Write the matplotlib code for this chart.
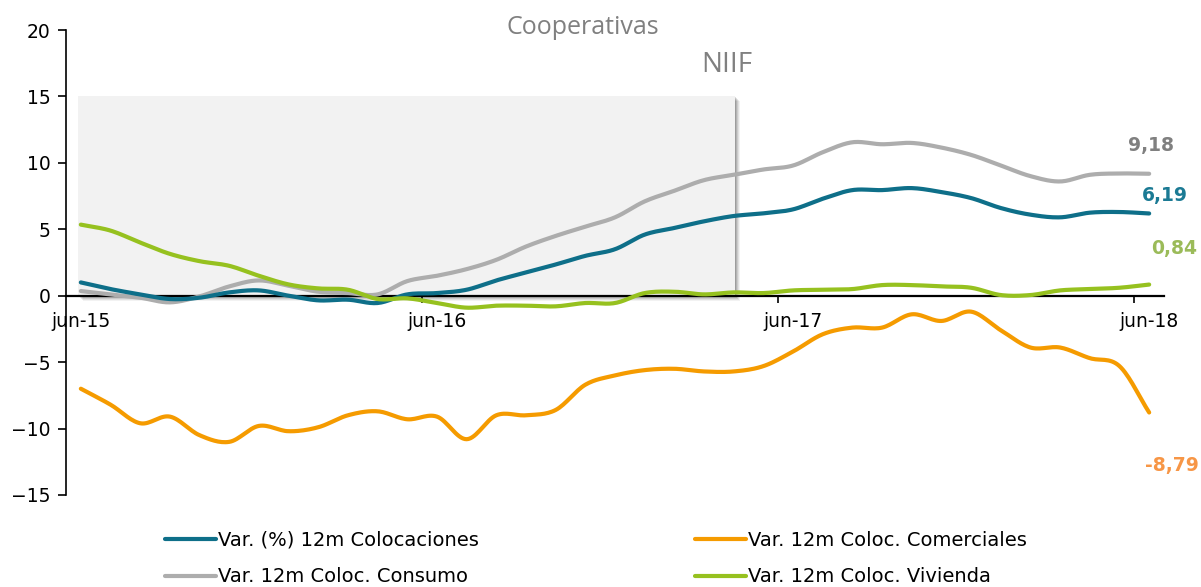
import matplotlib
matplotlib.use('Agg')
import matplotlib.pyplot as plt
import matplotlib.patches as mpatches
import matplotlib.transforms as mtransforms
import numpy as np

plt.rcParams['font.family'] = 'DejaVu Sans'

# Data (monthly, jun-15 .. jun-18)
months = ['jun-15', 'jul-15', 'ago-15', 'sep-15', 'oct-15', 'nov-15', 'dic-15',
          'ene-16', 'feb-16', 'mar-16', 'abr-16', 'may-16', 'jun-16', 'jul-16',
          'ago-16', 'sep-16', 'oct-16', 'nov-16', 'dic-16', 'ene-17', 'feb-17',
          'mar-17', 'abr-17', 'may-17', 'jun-17', 'jul-17', 'ago-17', 'sep-17',
          'oct-17', 'nov-17', 'dic-17', 'ene-18', 'feb-18', 'mar-18', 'abr-18',
          'may-18', 'jun-18']
colocaciones = [1.0, 0.5, 0.1, -0.25, -0.15, 0.25, 0.4, 0.0, -0.35, -0.3, -0.55, 0.1,
                0.2, 0.45, 1.15, 1.75, 2.35, 3.0, 3.5, 4.6, 5.1, 5.6, 6.0, 6.2,
                6.5, 7.3, 7.95, 7.95, 8.1, 7.8, 7.35, 6.6, 6.1, 5.9, 6.25, 6.3, 6.19]
comerciales = [-7.0, -8.2, -9.6, -9.1, -10.5, -11.0, -9.8, -10.2, -9.9, -9.0, -8.7, -9.3,
               -9.1, -10.8, -9.0, -9.0, -8.6, -6.7, -6.0, -5.6, -5.5, -5.7, -5.7, -5.3,
               -4.2, -2.9, -2.4, -2.4, -1.4, -1.9, -1.2, -2.6, -3.9, -3.9, -4.7, -5.3, -8.79]
consumo = [0.35, 0.1, -0.15, -0.5, -0.05, 0.7, 1.15, 0.75, 0.3, 0.2, 0.1, 1.1,
           1.5, 2.0, 2.7, 3.7, 4.5, 5.2, 5.9, 7.1, 7.9, 8.7, 9.1, 9.5,
           9.8, 10.8, 11.55, 11.4, 11.5, 11.15, 10.6, 9.8, 9.0, 8.6, 9.1, 9.2, 9.18]
vivienda = [5.35, 4.9, 4.0, 3.15, 2.6, 2.25, 1.5, 0.85, 0.55, 0.45, -0.25, -0.2,
            -0.55, -0.9, -0.75, -0.75, -0.8, -0.55, -0.55, 0.2, 0.3, 0.1, 0.25, 0.2,
            0.4, 0.45, 0.5, 0.8, 0.8, 0.7, 0.6, 0.05, 0.05, 0.4, 0.5, 0.6, 0.84]

# NIIF shaded period (category positions)
shade_start, shade_end = -0.1, 22.05

c_col = '#0E6F89'
c_com = '#F59B00'
c_con = '#ADADAD'
c_viv = '#96C11F'


def smooth(ys, n=16):
    # Catmull-Rom spline through the points, like Excel's smoothed line
    y = np.asarray(ys, float)
    x = np.arange(len(y), dtype=float)
    yp = np.concatenate([[2 * y[0] - y[1]], y, [2 * y[-1] - y[-2]]])
    t = np.linspace(0, 1, n, endpoint=False)
    xs, ys_out = [], []
    for i in range(len(y) - 1):
        p0, p1, p2, p3 = yp[i:i + 4]
        seg = 0.5 * (2 * p1 + (-p0 + p2) * t + (2 * p0 - 5 * p1 + 4 * p2 - p3) * t ** 2
                     + (-p0 + 3 * p1 - 3 * p2 + p3) * t ** 3)
        xs.append(x[i] + t)
        ys_out.append(seg)
    xs.append([x[-1]])
    ys_out.append([y[-1]])
    return np.concatenate(xs), np.concatenate(ys_out)


fig = plt.figure(figsize=(12.01, 5.87), dpi=100)
ax = fig.add_axes([66 / 1201, 1 - 495 / 587, (1164 - 66) / 1201, (495 - 30) / 587])

# shaded box with soft shadow
for k, a in zip([5, 4, 3, 2, 1], [0.05, 0.07, 0.09, 0.11, 0.13]):
    tr = mtransforms.offset_copy(ax.transData, fig=fig, x=k, y=-k, units='dots')
    ax.add_patch(mpatches.Rectangle((shade_start, 0), shade_end - shade_start, 15,
                                    facecolor='black', alpha=a, edgecolor='none',
                                    transform=tr, zorder=0.5))
ax.add_patch(mpatches.Rectangle((shade_start, 0), shade_end - shade_start, 15,
                                facecolor='#F2F2F2', edgecolor='none', zorder=0.6))

lw = 3
l_col, = ax.plot(*smooth(colocaciones), color=c_col, lw=lw, solid_capstyle='round', zorder=3)
l_com, = ax.plot(*smooth(comerciales), color=c_com, lw=lw, solid_capstyle='round', zorder=3)
l_con, = ax.plot(*smooth(consumo), color=c_con, lw=lw, solid_capstyle='round', zorder=2)
l_viv, = ax.plot(*smooth(vivienda), color=c_viv, lw=lw, solid_capstyle='round', zorder=3)

ax.set_xlim(-0.5, len(months) - 0.5)
ax.set_ylim(-15, 20)
ax.set_yticks(np.arange(-15, 21, 5))

for s in ['top', 'right']:
    ax.spines[s].set_visible(False)
ax.spines['bottom'].set_position(('data', 0))
ax.spines['bottom'].set_linewidth(1.6)
ax.spines['bottom'].set_zorder(1)
ax.spines['left'].set_linewidth(1.2)

# tick marks at category boundaries, labels at category centres
ax.set_xticks([i - 0.5 for i in range(12, len(months), 12)])
ax.set_xticklabels([])
ax.set_xticks(range(0, len(months), 12), minor=True)
ax.set_xticklabels(months[::12], minor=True)
ax.tick_params(axis='x', which='major', direction='out', length=5, width=1.2)
ax.tick_params(axis='x', which='minor', length=0, pad=12, labelsize=13.5)
ax.tick_params(axis='y', direction='out', length=6, width=1.2, pad=5, labelsize=13.5)

# end labels
def fmt(v):
    return f'{v:.2f}'.replace('.', ',')

last = len(months) - 1
for vals, col, off in [(consumo, '#808080', (2, 28)),
                       (colocaciones, '#1B7A94', (16, 18)),
                       (vivienda, '#9BBB59', (25, 36)),
                       (comerciales, '#F79646', (23, -53))]:
    ax.annotate(fmt(vals[-1]), xy=(last, vals[-1]), xytext=off, textcoords='offset pixels',
                ha='center', va='center', fontsize=13.5, fontweight='bold', color=col,
                annotation_clip=False)

fig.text(583 / 1201, 1 - 27 / 587, 'Cooperativas', ha='center', va='center',
         fontsize=18, color='#808080', family='Open Sans')
fig.text(727 / 1201, 1 - 65 / 587, 'NIIF', ha='center', va='center',
         fontsize=20, color='#808080', family='Open Sans')

leg_kw = dict(loc='upper left', frameon=False, fontsize=14, handlelength=2.6,
              handletextpad=0.15, borderpad=0, borderaxespad=0, labelspacing=0.9)
fig.legend([l_col, l_con], ['Var. (%) 12m Colocaciones', 'Var. 12m Coloc. Consumo'],
           bbox_to_anchor=(165 / 1201, 1 - 531 / 587), **leg_kw)
fig.legend([l_com, l_viv], ['Var. 12m Coloc. Comerciales', 'Var. 12m Coloc. Vivienda'],
           bbox_to_anchor=(695 / 1201, 1 - 531 / 587), **leg_kw)

fig.savefig('out.png', dpi=100)
